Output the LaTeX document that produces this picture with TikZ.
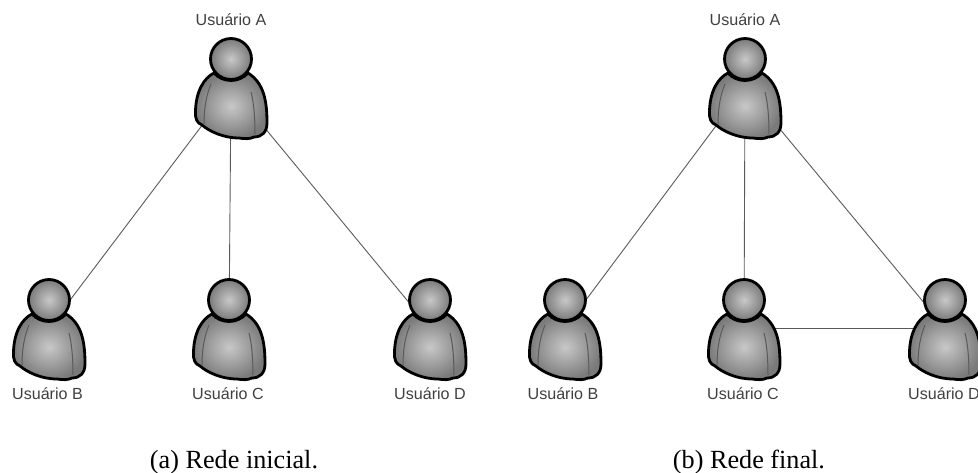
\documentclass[tikz,border=0pt]{standalone}
\usepackage{fontspec}
\setmainfont{Liberation Sans}
\newfontfamily\capfont{Liberation Serif}
\definecolor{edgegray}{HTML}{5A5A5A}
\definecolor{midgray}{HTML}{C8C8C8}
\definecolor{rimgray}{HTML}{7A7A7A}
\definecolor{creasegray}{HTML}{5A5A5A}
\tikzset{
  x=1pt,y=-1pt,
  link/.style={draw=edgegray,line width=0.9pt},
  anchorpt/.style={inner sep=0pt,minimum size=0pt},
  userlabel/.style={font=\fontsize{16.1}{18}\selectfont,text=black!75,inner sep=0pt,anchor=center},
  caption/.style={font=\capfont\fontsize{26.2}{30}\selectfont,inner sep=0pt,anchor=base},
  person/.pic={
    \path[draw=black,line width=2.8pt,line join=round,inner color=midgray,outer color=rimgray]
      (-17,14) .. controls (-27,19) and (-35,32) .. (-35.5,52)
      .. controls (-36,60) and (-34,64) .. (-29,66)
      .. controls (-22,72) and (-8,79) .. (8,79)
      .. controls (14,80) and (19,80) .. (23,78)
      .. controls (31,78) and (36,73) .. (36,64)
      .. controls (36,42) and (33,24) .. (17,14)
      .. controls (8,24) and (-8,24) .. (-17,14) -- cycle;
    \draw[creasegray,line width=1pt] (-20,25) .. controls (-25,37) and (-27,50) .. (-27,65);
    \draw[creasegray,line width=1pt] (20,33) .. controls (23,44) and (24,60) .. (24,75);
    \path[draw=black,line width=2.8pt,inner color=midgray,outer color=rimgray] (0,0) circle[radius=20.5];
  }
}
\begin{document}
\begin{tikzpicture}
\useasboundingbox (0,0) rectangle (978,472);
% anchors (body centres)
\node[anchorpt] (a1) at (231,87) {};
\node[anchorpt] (b1) at (49,328) {};
\node[anchorpt] (c1) at (229,328) {};
\node[anchorpt] (d1) at (430,328) {};
\node[anchorpt] (a2) at (745,87) {};
\node[anchorpt] (b2) at (565,328) {};
\node[anchorpt] (c2) at (744,328) {};
\node[anchorpt] (d2) at (945,328) {};
% connectors
\draw[link] (a1) -- (b1);
\draw[link] (a1) -- (c1);
\draw[link] (a1) -- (d1);
\draw[link] (a2) -- (b2);
\draw[link] (a2) -- (c2);
\draw[link] (a2) -- (d2);
\draw[link] (c2) -- (d2);
% people
\pic at (231,59) {person};
\pic at (49,300) {person};
\pic at (229,300) {person};
\pic at (430,300) {person};
\pic at (745,59) {person};
\pic at (565,300) {person};
\pic at (744,300) {person};
\pic at (945,300) {person};
% labels
\node[userlabel] (la1) at (231,20) {Usuário A};
\node[userlabel] (lb1) at (47.5,393.5) {Usuário B};
\node[userlabel] (lc1) at (228,393.5) {Usuário C};
\node[userlabel] (ld1) at (430,393.5) {Usuário D};
\node[userlabel] (la2) at (745,20) {Usuário A};
\node[userlabel] (lb2) at (563,393.5) {Usuário B};
\node[userlabel] (lc2) at (743,393.5) {Usuário C};
\node[userlabel] (ld2) at (944,393.5) {Usuário D};
\node[caption] (cap1) at (234,468) {(a) Rede inicial.};
\node[caption] (cap2) at (749,468) {(b) Rede final.};
\end{tikzpicture}
\end{document}
